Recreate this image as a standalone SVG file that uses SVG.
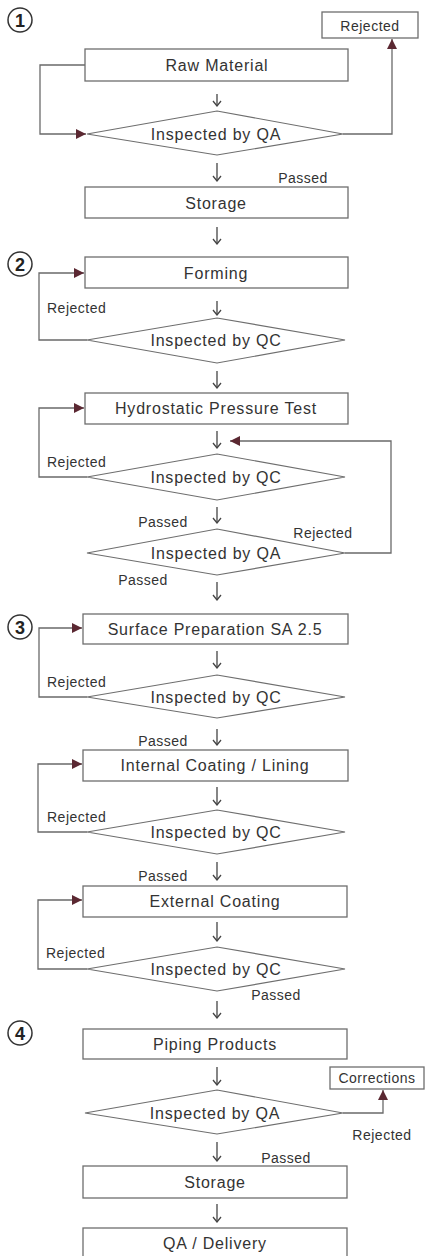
<svg xmlns="http://www.w3.org/2000/svg" width="425" height="1256" viewBox="0 0 425 1256">
<style>
.box{fill:#fff;stroke:#6e6e6e;stroke-width:1.3}
.dia{fill:#fff;stroke:#6e6e6e;stroke-width:1.2}
.t{font-family:"Liberation Sans",Arial,sans-serif;font-size:16px;fill:#333;text-anchor:middle;letter-spacing:0.8px}
.lb{font-family:"Liberation Sans",Arial,sans-serif;font-size:14px;fill:#333;letter-spacing:0.5px}
.c{text-anchor:middle}
.num{font-family:"Liberation Sans",Arial,sans-serif;font-size:18px;font-weight:bold;fill:#222;text-anchor:middle}
.circ{fill:#fff;stroke:#333;stroke-width:1.5}
.loop{fill:none;stroke:#6a6a6a;stroke-width:1.3}
.down{fill:none;stroke:#444;stroke-width:1.3}
</style>
<defs>
<marker id="tri" viewBox="0 0 10 10" refX="10" refY="5" markerWidth="10" markerHeight="10" markerUnits="userSpaceOnUse" orient="auto">
<path d="M0,0 L10,5 L0,10 Z" fill="#5b2832"/>
</marker>
<marker id="open" viewBox="0 0 10 10" refX="5" refY="9" markerWidth="10" markerHeight="10" markerUnits="userSpaceOnUse" orient="0">
<path d="M1,4 L5,9 L9,4" fill="none" stroke="#444" stroke-width="1.3"/>
</marker>
</defs>
<rect width="425" height="1256" fill="#fff"/>

<g id="markers">
<circle class="circ" cx="20" cy="20" r="12"/><text class="num" x="20" y="26.5">1</text>
<circle class="circ" cx="20" cy="264" r="12"/><text class="num" x="20" y="270.5">2</text>
<circle class="circ" cx="20" cy="627" r="12"/><text class="num" x="20" y="633.5">3</text>
<circle class="circ" cx="20" cy="1033" r="12"/><text class="num" x="20" y="1039.5">4</text>
</g>

<g id="connectors">
<!-- section 1 -->
<path class="loop" d="M85,65 H40 V134 H86" marker-end="url(#tri)"/>
<path class="loop" d="M343,134 H392 V39" marker-end="url(#tri)"/>
<path class="down" d="M217,94 V106" marker-end="url(#open)"/>
<path class="down" d="M217,163 V181" marker-end="url(#open)"/>
<path class="down" d="M217,227 V244" marker-end="url(#open)"/>
<!-- section 2 -->
<path class="loop" d="M87,340 H39 V273 H84" marker-end="url(#tri)"/>
<path class="loop" d="M87,477 H39 V408 H84" marker-end="url(#tri)"/>
<path class="loop" d="M345,553 H391 V441 H230" marker-end="url(#tri)"/>
<path class="down" d="M217,301 V315" marker-end="url(#open)"/>
<path class="down" d="M217,371 V388" marker-end="url(#open)"/>
<path class="down" d="M217,431 V448" marker-end="url(#open)"/>
<path class="down" d="M217,507 V523" marker-end="url(#open)"/>
<path class="down" d="M217,582 V600" marker-end="url(#open)"/>
<!-- section 3 -->
<path class="loop" d="M87,697 H39 V628 H82" marker-end="url(#tri)"/>
<path class="loop" d="M87,832 H38 V764 H82" marker-end="url(#tri)"/>
<path class="loop" d="M87,969 H38 V900 H82" marker-end="url(#tri)"/>
<path class="down" d="M217,651 V668" marker-end="url(#open)"/>
<path class="down" d="M217,729 V745" marker-end="url(#open)"/>
<path class="down" d="M217,787 V805" marker-end="url(#open)"/>
<path class="down" d="M217,862 V880" marker-end="url(#open)"/>
<path class="down" d="M217,922 V941" marker-end="url(#open)"/>
<path class="down" d="M217,1001 V1018" marker-end="url(#open)"/>
<!-- section 4 -->
<path class="loop" d="M343,1113 H383 V1090" marker-end="url(#tri)"/>
<path class="down" d="M217,1067 V1085" marker-end="url(#open)"/>
<path class="down" d="M217,1142 V1161" marker-end="url(#open)"/>
<path class="down" d="M217,1204 V1222" marker-end="url(#open)"/>
</g>

<g id="n-rejected1"><rect class="box" x="322" y="12" width="96" height="26"/><text class="lb c" x="370" y="30.5">Rejected</text></g>
<g id="n-raw"><rect class="box" x="85" y="49" width="263" height="32"/><text class="t" x="217" y="71">Raw Material</text></g>
<g id="n-qa1"><polygon class="dia" points="217,111 343,134 217,155 87,134"/><text class="t" x="216" y="140">Inspected by QA</text></g>
<g id="n-storage1"><rect class="box" x="85" y="187" width="263" height="31"/><text class="t" x="216" y="209">Storage</text></g>

<g id="n-forming"><rect class="box" x="85" y="257" width="263" height="31"/><text class="t" x="216" y="279">Forming</text></g>
<g id="n-qc1"><polygon class="dia" points="217,318 345,340 217,363 87,340"/><text class="t" x="216" y="346">Inspected by QC</text></g>
<g id="n-hydro"><rect class="box" x="85" y="393" width="263" height="31"/><text class="t" x="216" y="414">Hydrostatic Pressure Test</text></g>
<g id="n-qc2"><polygon class="dia" points="217,454 345,477 217,500 87,477"/><text class="t" x="216" y="483">Inspected by QC</text></g>
<g id="n-qa2"><polygon class="dia" points="217,529 345,553 217,575 87,553"/><text class="t" x="216" y="559">Inspected by QA</text></g>

<g id="n-surface"><rect class="box" x="83" y="614" width="265" height="30"/><text class="t" x="215" y="635">Surface Preparation SA 2.5</text></g>
<g id="n-qc3"><polygon class="dia" points="217,675 345,697 217,718 87,697"/><text class="t" x="216" y="703">Inspected by QC</text></g>
<g id="n-internal"><rect class="box" x="83" y="750" width="265" height="31"/><text class="t" x="215" y="771">Internal Coating / Lining</text></g>
<g id="n-qc4"><polygon class="dia" points="217,810 345,832 217,854 87,832"/><text class="t" x="216" y="838">Inspected by QC</text></g>
<g id="n-external"><rect class="box" x="83" y="886" width="264" height="31"/><text class="t" x="215" y="907">External Coating</text></g>
<g id="n-qc5"><polygon class="dia" points="217,947 345,969 217,991 87,969"/><text class="t" x="216" y="975">Inspected by QC</text></g>

<g id="n-piping"><rect class="box" x="83" y="1029" width="264" height="30"/><text class="t" x="215" y="1050">Piping Products</text></g>
<g id="n-corrections"><rect class="box" x="330" y="1067" width="94" height="22"/><text class="lb c" x="377" y="1083">Corrections</text></g>
<g id="n-qa3"><polygon class="dia" points="217,1090 343,1113 217,1134 85,1113"/><text class="t" x="215" y="1119">Inspected by QA</text></g>
<g id="n-storage2"><rect class="box" x="83" y="1166" width="264" height="32"/><text class="t" x="215" y="1188">Storage</text></g>
<g id="n-delivery"><rect class="box" x="83" y="1228" width="264" height="32"/><text class="t" x="215" y="1249">QA / Delivery</text></g>

<g id="labels">
<text class="lb c" x="303" y="183">Passed</text>
<text class="lb" x="47" y="313">Rejected</text>
<text class="lb" x="47" y="467">Rejected</text>
<text class="lb c" x="163" y="527">Passed</text>
<text class="lb c" x="323" y="538">Rejected</text>
<text class="lb c" x="143" y="585">Passed</text>
<text class="lb" x="47" y="687">Rejected</text>
<text class="lb c" x="163" y="746">Passed</text>
<text class="lb" x="47" y="822">Rejected</text>
<text class="lb c" x="163" y="881">Passed</text>
<text class="lb" x="46" y="958">Rejected</text>
<text class="lb c" x="276" y="1000">Passed</text>
<text class="lb c" x="382" y="1140">Rejected</text>
<text class="lb c" x="286" y="1163">Passed</text>
</g>
</svg>
